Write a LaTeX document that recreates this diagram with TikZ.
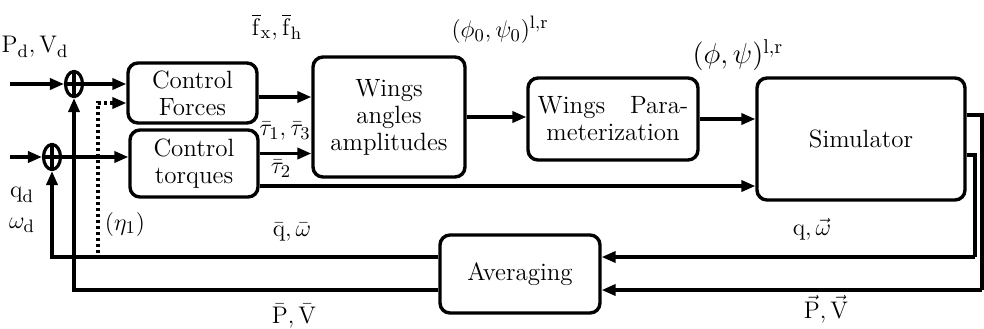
\documentclass[tikz,border=0pt,12pt]{standalone}
\usetikzlibrary{arrows.meta,shapes.geometric}
\begin{document}
\begin{tikzpicture}[x=0.5pt,y=-0.5pt,
  blk/.style={draw,line width=1.7pt,rounded corners=5pt,align=center,inner sep=0pt,font=\fontsize{12.5}{13.5}\selectfont},
  sumj/.style={draw,ellipse,line width=1.6pt,minimum width=8.5pt,minimum height=12.5pt,inner sep=0pt},
  con/.style={line width=1.6pt},
  arr/.style={con,-{Triangle[length=7pt,width=5.6pt]}},
  dotline/.style={line width=1.6pt,dash pattern=on 1.6pt off 1.4pt,-{Triangle[length=7pt,width=5.6pt]}},
  lbl/.style={font=\fontsize{12.5}{14}\selectfont,inner sep=0pt},
  biglbl/.style={font=\fontsize{14}{16}\selectfont,inner sep=0pt}]
\useasboundingbox (0,0) rectangle (984,328);

% blocks
\node[blk,minimum width=64.5pt,minimum height=30pt] (cf) at (192.5,93) {Control\\Forces};
\node[blk,minimum width=64pt,minimum height=33.5pt] (ct) at (194,163.5) {Control\\torques};
\node[blk,minimum width=76pt,minimum height=60pt] (wa) at (389,117) {Wings\\angles\\amplitudes};
\node[blk,minimum width=85pt,minimum height=41pt] (wp) at (613,119) {Wings\quad Para-\\meterization};
\node[blk,minimum width=104pt,minimum height=61pt] (sim) at (861,139) {Simulator};
\node[blk,minimum width=80pt,minimum height=39pt] (avg) at (520,274) {Averaging};

% summing junctions
\node[sumj] (s1) at (74,84) {};
\node[sumj] (s2) at (52,157) {};
\draw[con] (s1.north) -- (s1.south) (s1.west) -- (s1.east);
\draw[con] (s2.north) -- (s2.south) (s2.west) -- (s2.east);

% inputs
\coordinate (in1) at (10,84);
\coordinate (in2) at (10,157);
\draw[arr] (in1) -- (s1.west);
\draw[arr] (s1.east) -- (s1.east -| cf.west);
\draw[arr] (in2) -- (s2.west);
\draw[arr] (s2.east) -- (s2.east -| ct.west);

% forward connections
\path ([yshift=-2pt]cf.east) coordinate (a1);
\draw[arr] (a1) -- (a1 -| wa.west);
\path ([yshift=5pt]ct.east) coordinate (a2);
\draw[arr] (a2) -- (a2 -| wa.west);
\path ([yshift=-11.25pt]ct.east) coordinate (a3);
\draw[arr] (a3) -- (a3 -| sim.west);
\draw[arr] (wa.east) -- (wa.east -| wp.west);
\draw[arr] (wp.east) -- (wp.east -| sim.west);

% simulator outputs to averaging
\path ([yshift=12pt]sim.east) coordinate (o1);
\path ([yshift=-8pt]sim.east) coordinate (o2);
\coordinate (r1) at (982,290);
\coordinate (r2) at (975,257);
\draw[con] (o1) -| (r1);
\draw[arr] (r1) -- (r1 -| avg.east);
\draw[con] (o2) -| (r2);
\draw[arr] (r2) -- (r2 -| avg.east);

% feedback to summing junctions
\draw[arr] (r2 -| avg.west) -| (s2.south);
\draw[arr] (r1 -| avg.west) -| (s1.south);

% dotted eta line
\coordinate (d0) at (98,253);
\path ([yshift=-5pt]cf.west) coordinate (cfin);
\draw[dotline] (d0) |- (cfin);

% labels
\node[lbl] (lpv) at (35,47) {$\mathrm{P}_\mathrm{d},\mathrm{V}_\mathrm{d}$};
\node[lbl] (lf) at (277,27) {$\overline{\mathrm{f}}_\mathrm{x},\overline{\mathrm{f}}_\mathrm{h}$};
\node[lbl] (lphi0) at (500,30) {$(\phi_0,\psi_0)^{\mathrm{l,r}}$};
\node[biglbl] (lphi) at (738,55) {$(\phi,\psi)^{\mathrm{l,r}}$};
\node[lbl] (lt13) at (285,131) {$\bar\tau_1,\bar\tau_3$};
\node[lbl] (lt2) at (281,169) {$\bar\tau_2$};
\node[lbl] (lqd) at (22,195) {$\mathrm{q}_\mathrm{d}$};
\node[lbl] (lwd) at (22,225) {$\omega_\mathrm{d}$};
\node[lbl] (leta) at (125,224) {$(\eta_1)$};
\node[lbl] (lqw) at (292,232) {$\bar{\mathrm{q}},\bar\omega$};
\node[lbl] (lPV) at (294,316) {$\bar{\mathrm{P}},\bar{\mathrm{V}}$};
\node[lbl] (lqw2) at (812,229) {$\mathrm{q},\vec\omega$};
\node[lbl] (lPV2) at (826,309) {$\vec{\mathrm{P}},\vec{\mathrm{V}}$};
\end{tikzpicture}
\end{document}
